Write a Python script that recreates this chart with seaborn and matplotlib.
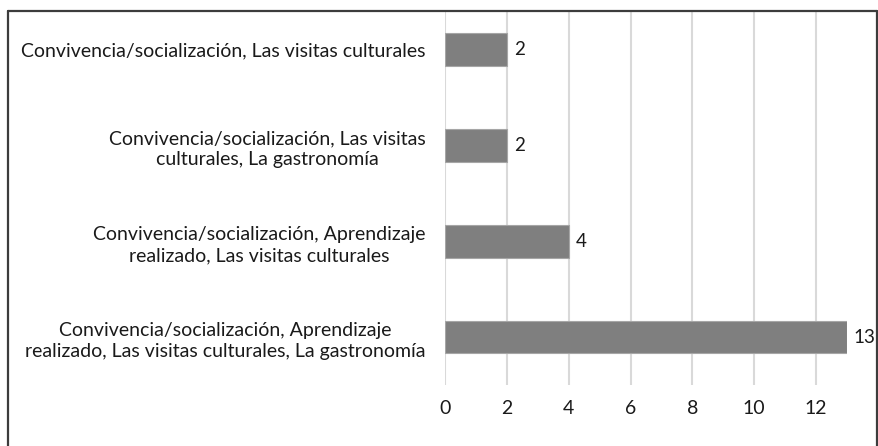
import matplotlib
matplotlib.use("Agg")
import matplotlib.pyplot as plt
import seaborn as sns
import pandas as pd
from matplotlib.lines import Line2D

categories = [
    "Convivencia/socialización, Las visitas culturales",
    "Convivencia/socialización, Las visitas\nculturales, La gastronomía",
    "Convivencia/socialización, Aprendizaje\nrealizado, Las visitas culturales",
    "Convivencia/socialización, Aprendizaje\nrealizado, Las visitas culturales, La gastronomía",
]
values = [2, 2, 4, 13]
xticks = [0, 2, 4, 6, 8, 10, 12]

sns.set_theme(style="white")
plt.rcParams['font.family'] = ['Lato', 'DejaVu Sans']

df = pd.DataFrame({"cat": categories, "val": values})

W, H = 879, 446
FS = 14
fig = plt.figure(figsize=(W / 100, H / 100), dpi=100)
ax = fig.add_axes([445 / W, 1 - 385 / H, (847 - 445) / W, (385 - 11) / H])

sns.barplot(data=df, y="cat", x="val", orient="h", color="#7f7f7f",
            saturation=1, width=0.34, edgecolor="#a6a6a6", linewidth=0.8,
            ax=ax, zorder=3)

ax.set_xlim(0, 13)
ax.set_ylim(3.5, -0.5 + (11 - 1.7) / 95.9)
ax.set_xticks(xticks)
ax.set_xticklabels([str(t) for t in xticks], fontsize=FS)
ax.set_yticks(range(len(categories)))
ax.set_yticklabels(categories, fontsize=FS, multialignment="center",
                   color="#1a1a1a", linespacing=1.3)
ax.set_xlabel("")
ax.set_ylabel("")
ax.tick_params(axis="both", length=0, colors="#1a1a1a")
ax.tick_params(axis="x", pad=11)
ax.tick_params(axis="y", pad=14)
for s in ax.spines.values():
    s.set_visible(False)
ax.grid(axis="x", color="#d9d9d9", linewidth=1.5, zorder=0)
ax.set_axisbelow(True)

for i, v in enumerate(values):
    ax.text(v + 0.22, i, str(v), va="center", ha="left", fontsize=13.5, color="#1a1a1a")

bc = "#3c3c3c"
lw = 1.6
fig.add_artist(Line2D([8 / W, 8 / W], [0, 1 - 11 / H], color=bc, lw=lw, transform=fig.transFigure))
fig.add_artist(Line2D([877 / W, 877 / W], [0, 1 - 11 / H], color=bc, lw=lw, transform=fig.transFigure))
fig.add_artist(Line2D([8 / W, 877 / W], [1 - 11 / H, 1 - 11 / H], color=bc, lw=lw, transform=fig.transFigure))

fig.savefig("out.png", dpi=100)
